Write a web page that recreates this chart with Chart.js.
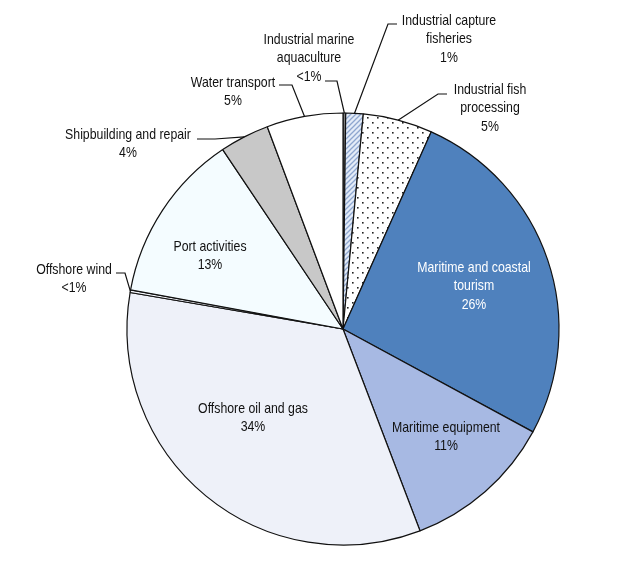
<!DOCTYPE html>
<html>
<head>
<meta charset="utf-8">
<script src="https://cdn.jsdelivr.net/npm/chart.js@4"></script>
<style>
  body { margin: 0; background: #fff; }
  #wrap { width: 644px; height: 569px; }
</style>
</head>
<body>
<div id="wrap"><canvas id="pie" width="644" height="569"></canvas></div>
<script>
// --- data (clockwise from 12 o'clock) ---
const categories = [
    'Industrial marine aquaculture', 'Industrial capture fisheries', 'Industrial fish processing',
    'Maritime and coastal tourism', 'Maritime equipment', 'Offshore oil and gas',
    'Offshore wind', 'Port activities', 'Shipbuilding and repair', 'Water transport'
];
const shares = [0.2, 1.3, 5.2, 26.2, 11.3, 33.5, 0.2, 12.7, 3.7, 5.7];
const shareLabels = ['<1%', '1%', '5%', '26%', '11%', '34%', '<1%', '13%', '4%', '5%'];

// label text broken into lines, as in the original
const labelLines = [
    ['Industrial marine', 'aquaculture'],
    ['Industrial capture', 'fisheries'],
    ['Industrial fish', 'processing'],
    ['Maritime and coastal', 'tourism'],
    ['Maritime equipment'],
    ['Offshore oil and gas'],
    ['Offshore wind'],
    ['Port activities'],
    ['Shipbuilding and repair'],
    ['Water transport']
];

// where each label sits, and the leader line (text end -> elbow -> slice edge)
const labelLayout = [
    { x: 309, y: 40, lead: [[325, 81], [337, 81]] },
    { x: 449, y: 21, lead: [[397, 24], [388, 24]] },
    { x: 490, y: 90, lead: [[447, 94], [438, 94]] },
    { x: 474, y: 268, color: '#ffffff' },
    { x: 446, y: 428 },
    { x: 253, y: 409 },
    { x: 74, y: 270, lead: [[116, 273], [125, 273]] },
    { x: 210, y: 247 },
    { x: 128, y: 135, lead: [[197, 139], [215, 139]] },
    { x: 233, y: 83, lead: [[279, 85], [292, 85]] }
];

// --- fill patterns ---
function hatchPattern() {
    const c = document.createElement('canvas');
    c.width = 5; c.height = 5;
    const g = c.getContext('2d');
    g.fillStyle = '#e4ecf8';
    g.fillRect(0, 0, 5, 5);
    g.strokeStyle = '#8ea6cf';
    g.lineWidth = 1.3;
    g.beginPath();
    g.moveTo(-1, 6); g.lineTo(6, -1);
    g.moveTo(-1, 1); g.lineTo(1, -1);
    g.moveTo(4, 6); g.lineTo(6, 4);
    g.stroke();
    return g.createPattern(c, 'repeat');
}

function dotPattern() {
    const c = document.createElement('canvas');
    c.width = 10; c.height = 10;
    const g = c.getContext('2d');
    g.fillStyle = '#ffffff';
    g.fillRect(0, 0, 10, 10);
    g.fillStyle = '#222222';
    g.fillRect(2, 2, 1.6, 1.6);
    g.fillRect(7, 7, 1.6, 1.6);
    return g.createPattern(c, 'repeat');
}

const sliceColors = [
    '#7f7f7f', hatchPattern(), dotPattern(), '#4f81bd', '#a7b9e3',
    '#eef1f9', '#f2f4fa', '#f4fcff', '#c8c8c8', '#ffffff'
];

// draws the slice labels and leader lines
const labelPlugin = {
    id: 'sliceLabels',
    afterDatasetsDraw(chart) {
        const ctx = chart.ctx;
        const arcs = chart.getDatasetMeta(0).data;
        ctx.save();
        ctx.font = '15px "Liberation Sans", Arial, sans-serif';
        ctx.textAlign = 'center';
        ctx.textBaseline = 'middle';
        labelLayout.forEach((lay, i) => {
            const lines = labelLines[i].concat([shareLabels[i]]);
            ctx.fillStyle = lay.color || '#111111';
            lines.forEach((t, k) => {
                ctx.save();
                ctx.translate(lay.x, lay.y + k * 18.3);
                ctx.scale(0.82, 1);
                ctx.fillText(t, 0, 0);
                ctx.restore();
            });
            if (lay.lead) {
                const a = arcs[i];
                const mid = (a.startAngle + a.endAngle) / 2;
                const ex = a.x + Math.cos(mid) * a.outerRadius;
                const ey = a.y + Math.sin(mid) * a.outerRadius;
                ctx.strokeStyle = '#111111';
                ctx.lineWidth = 1.2;
                ctx.beginPath();
                ctx.moveTo(lay.lead[0][0], lay.lead[0][1]);
                ctx.lineTo(lay.lead[1][0], lay.lead[1][1]);
                ctx.lineTo(ex, ey);
                ctx.stroke();
            }
        });
        ctx.restore();
    }
};

const pieCtx = document.getElementById('pie').getContext('2d');
const pieChart = new Chart(pieCtx, {
    type: 'pie',
    data: {
        labels: categories,
        datasets: [{
            data: shares,
            backgroundColor: sliceColors,
            borderColor: '#111111',
            borderWidth: 1.2
        }]
    },
    options: {
        responsive: false,
        animation: false,
        radius: 216,
        layout: { padding: { left: 60, right: 18, top: 100, bottom: 11 } },
        plugins: {
            legend: { display: false },
            tooltip: { enabled: false }
        }
    },
    plugins: [labelPlugin]
});
</script>
</body>
</html>
